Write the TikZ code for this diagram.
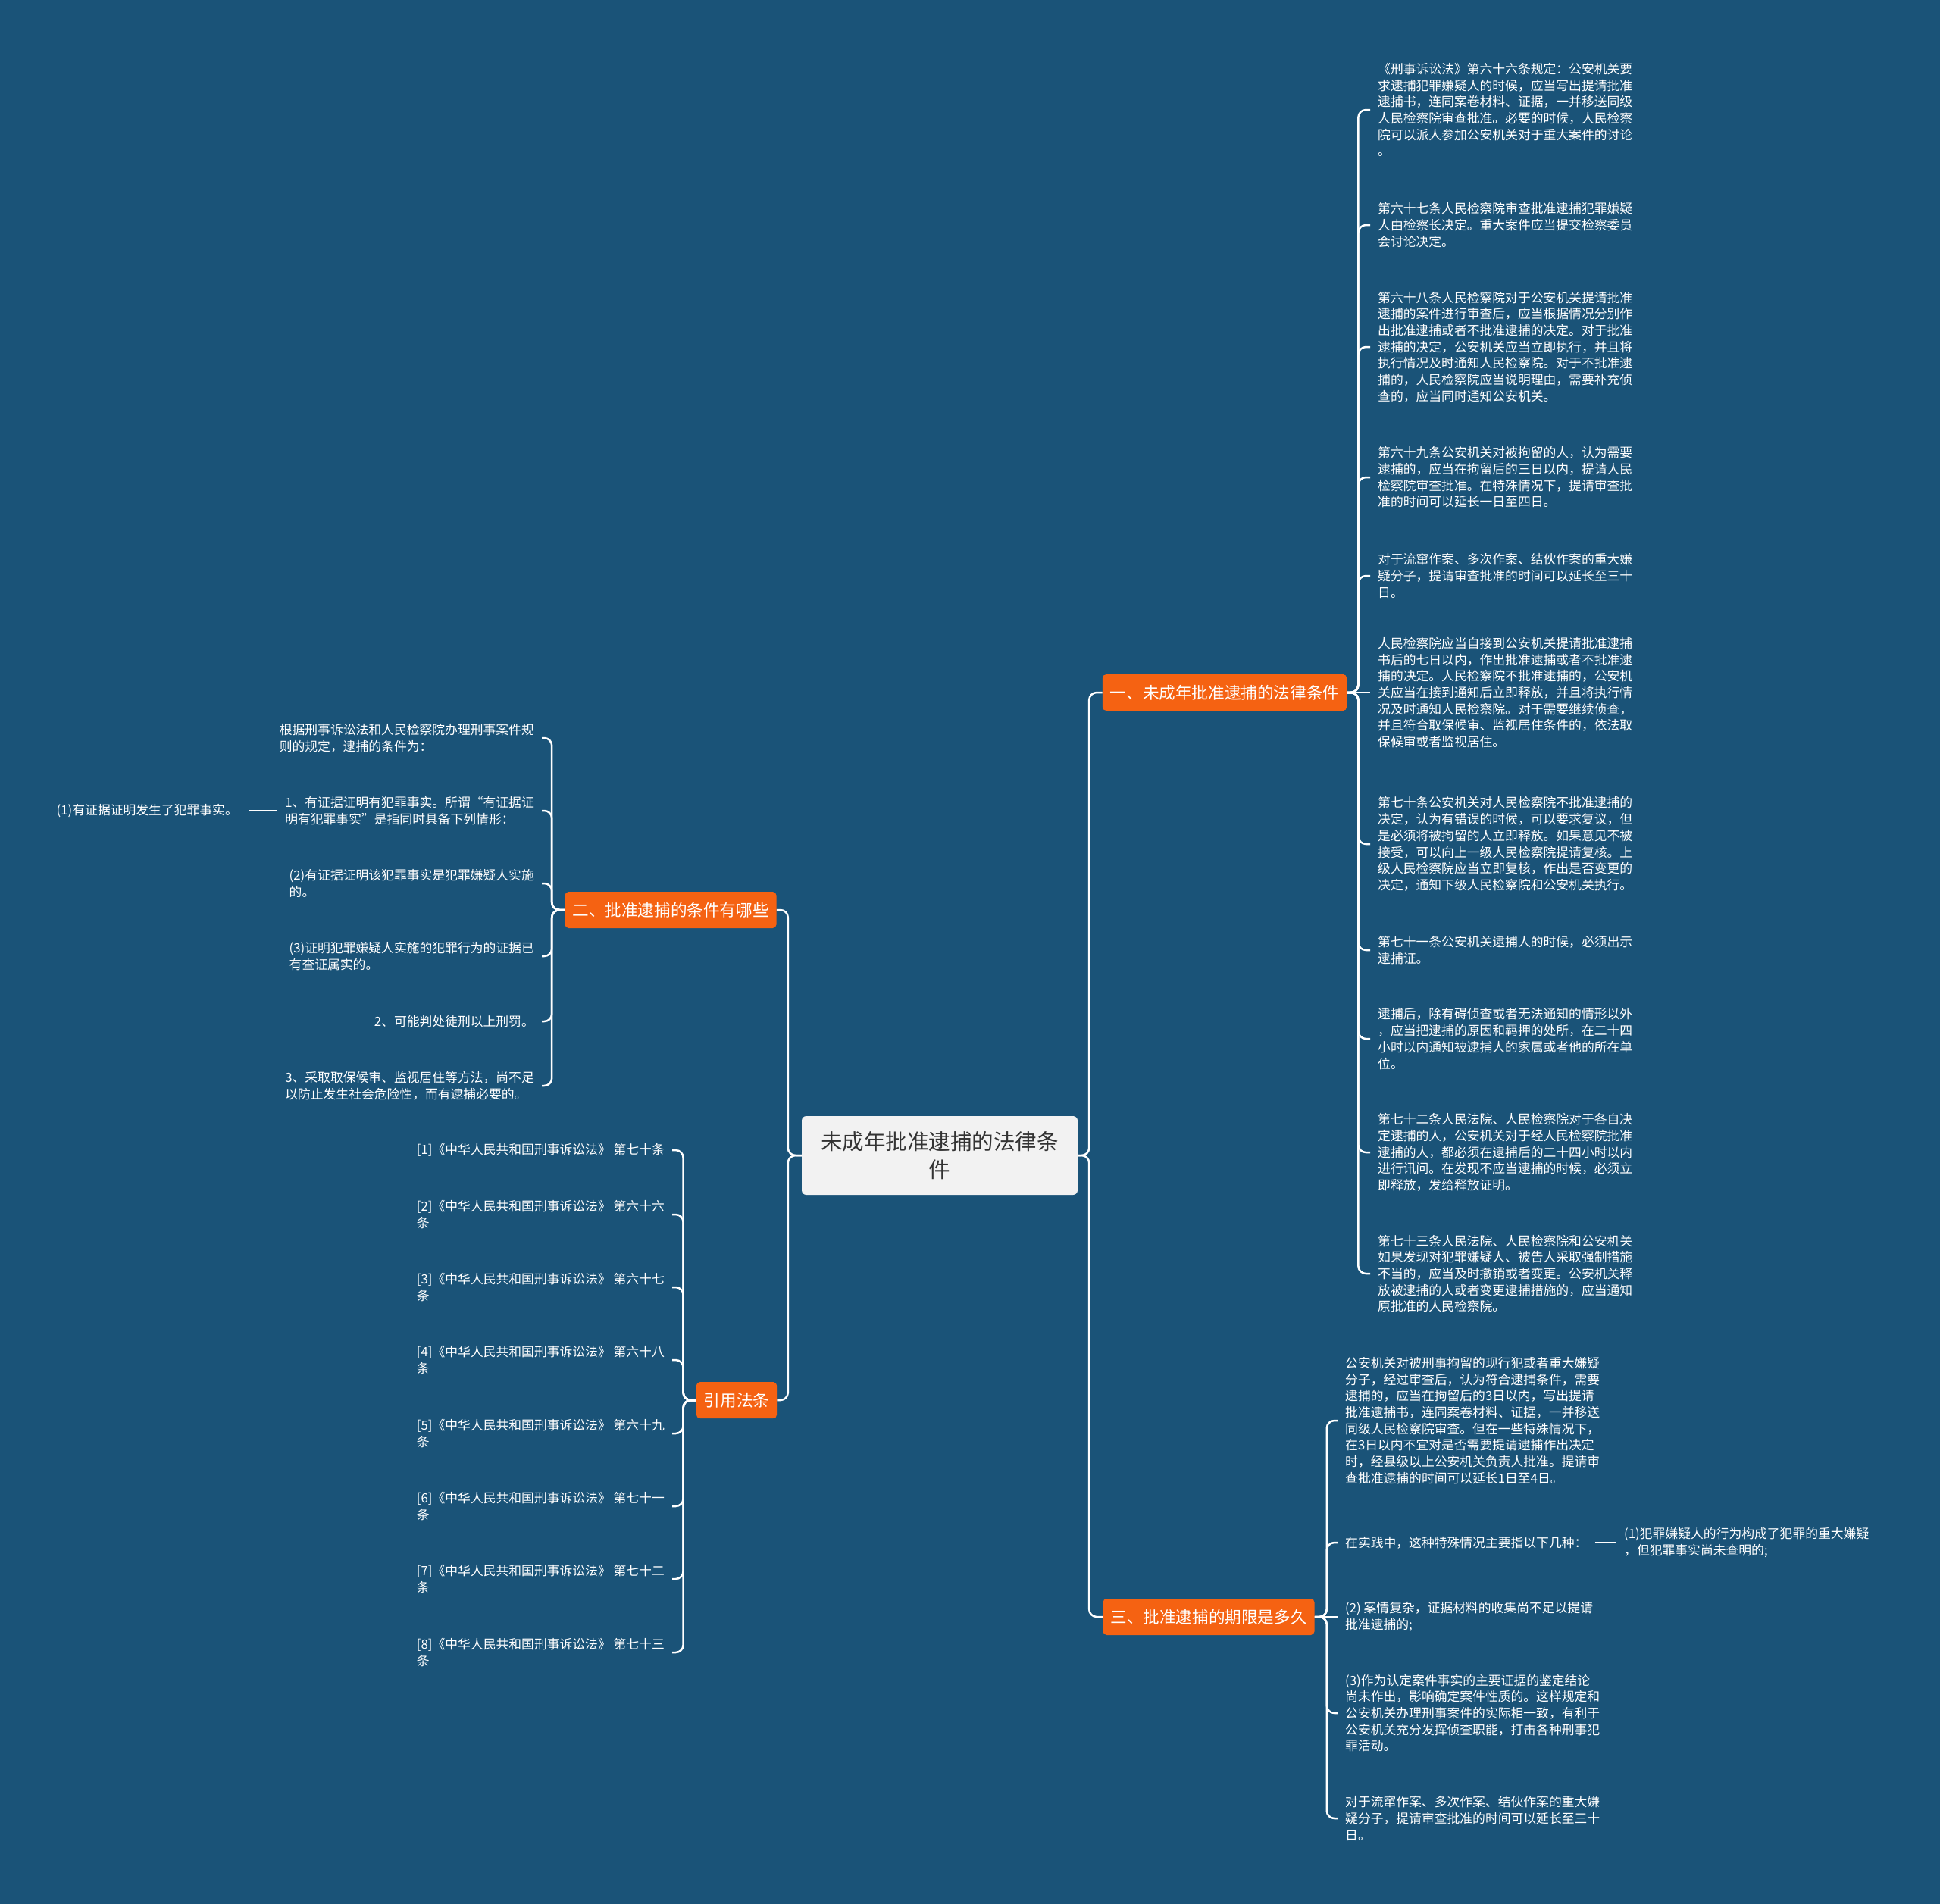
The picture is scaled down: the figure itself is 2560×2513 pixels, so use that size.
\documentclass[tikz,border=0pt]{standalone}
\usepackage{fontspec}
\setmainfont{Noto Sans CJK SC}
\usepackage{tikz}
\usepackage{xcolor}
\usetikzlibrary{positioning,calc}

\definecolor{bgblue}{RGB}{26,83,120}
\definecolor{topicorange}{RGB}{245,98,18}
\definecolor{rootgray}{RGB}{242,242,242}
\definecolor{roottext}{RGB}{51,51,51}

\newcommand{\leaffont}{\fontsize{16.8}{21.7}\selectfont}
\newcommand{\topicfont}{\fontsize{21.6}{26}\selectfont}
\newcommand{\rootfont}{\fontsize{28.5}{37}\selectfont}

\begin{document}
\begin{tikzpicture}[x=1pt, y=-1pt,
    root/.style={fill=rootgray, text=roottext, rounded corners=6pt, align=center,
        minimum width=364pt, minimum height=104pt, inner sep=0pt, font=\rootfont},
    topic/.style={fill=topicorange, text=white, rounded corners=5pt,
        inner xsep=10pt, minimum height=48pt, font=\topicfont},
    leaf/.style={text=white, align=left, inner xsep=10pt, inner ysep=2pt, font=\leaffont},
    link/.style={draw=white, line width=2.5pt, rounded corners=10pt}]
        \useasboundingbox (0,0) rectangle (2560,2513);
        \fill[bgblue] (0,0) rectangle (2560,2513);
        % centre and the four topics
        \node[root] (root) at (1240,1525) {未成年批准逮捕的法律条\\件};
        \node[topic] (b1) at (1616,914) {一、未成年批准逮捕的法律条件};
        \node[topic] (b2) at (885,1201) {二、批准逮捕的条件有哪些};
        \node[topic] (b3) at (1595,2134) {三、批准逮捕的期限是多久};
        \node[topic] (b4) at (972,1848) {引用法条};
        \draw[link] (root.east) -- ++(15,0) |- (b1.west);
        \draw[link] (root.east) -- ++(15,0) |- (b3.west);
        \draw[link] (root.west) -- ++(-18,0) |- (b2.east);
        \draw[link] (root.west) -- ++(-18,0) |- (b4.east);
        % topic one
        \node[leaf, anchor=west] (c1) at (1808,145) {《刑事诉讼法》第六十六条规定：公安机关要\\求逮捕犯罪嫌疑人的时候，应当写出提请批准\\逮捕书，连同案卷材料、证据，一并移送同级\\人民检察院审查批准。必要的时候，人民检察\\院可以派人参加公安机关对于重大案件的讨论\\。};
        \node[leaf, anchor=west] (c2) at (1808,297) {第六十七条人民检察院审查批准逮捕犯罪嫌疑\\人由检察长决定。重大案件应当提交检察委员\\会讨论决定。};
        \node[leaf, anchor=west] (c3) at (1808,458) {第六十八条人民检察院对于公安机关提请批准\\逮捕的案件进行审查后，应当根据情况分别作\\出批准逮捕或者不批准逮捕的决定。对于批准\\逮捕的决定，公安机关应当立即执行，并且将\\执行情况及时通知人民检察院。对于不批准逮\\捕的，人民检察院应当说明理由，需要补充侦\\查的，应当同时通知公安机关。};
        \node[leaf, anchor=west] (c4) at (1808,630) {第六十九条公安机关对被拘留的人，认为需要\\逮捕的，应当在拘留后的三日以内，提请人民\\检察院审查批准。在特殊情况下，提请审查批\\准的时间可以延长一日至四日。};
        \node[leaf, anchor=west] (c5) at (1808,760) {对于流窜作案、多次作案、结伙作案的重大嫌\\疑分子，提请审查批准的时间可以延长至三十\\日。};
        \node[leaf, anchor=west] (c6) at (1808,914) {人民检察院应当自接到公安机关提请批准逮捕\\书后的七日以内，作出批准逮捕或者不批准逮\\捕的决定。人民检察院不批准逮捕的，公安机\\关应当在接到通知后立即释放，并且将执行情\\况及时通知人民检察院。对于需要继续侦查，\\并且符合取保候审、监视居住条件的，依法取\\保候审或者监视居住。};
        \node[leaf, anchor=west] (c7) at (1808,1114) {第七十条公安机关对人民检察院不批准逮捕的\\决定，认为有错误的时候，可以要求复议，但\\是必须将被拘留的人立即释放。如果意见不被\\接受，可以向上一级人民检察院提请复核。上\\级人民检察院应当立即复核，作出是否变更的\\决定，通知下级人民检察院和公安机关执行。};
        \node[leaf, anchor=west] (c8) at (1808,1254) {第七十一条公安机关逮捕人的时候，必须出示\\逮捕证。};
        \node[leaf, anchor=west] (c9) at (1808,1371) {逮捕后，除有碍侦查或者无法通知的情形以外\\，应当把逮捕的原因和羁押的处所，在二十四\\小时以内通知被逮捕人的家属或者他的所在单\\位。};
        \node[leaf, anchor=west] (c10) at (1808,1521) {第七十二条人民法院、人民检察院对于各自决\\定逮捕的人，公安机关对于经人民检察院批准\\逮捕的人，都必须在逮捕后的二十四小时以内\\进行讯问。在发现不应当逮捕的时候，必须立\\即释放，发给释放证明。};
        \node[leaf, anchor=west] (c11) at (1808,1681) {第七十三条人民法院、人民检察院和公安机关\\如果发现对犯罪嫌疑人、被告人采取强制措施\\不当的，应当及时撤销或者变更。公安机关释\\放被逮捕的人或者变更逮捕措施的，应当通知\\原批准的人民检察院。};
        \foreach \c in {c1,c2,c3,c4,c5,c7,c8,c9,c10,c11}
            \draw[link] (b1.east) -- ++(15,0) |- (\c.west);
        \draw[link] (b1.east) -- (c6.west);
        % topic two
        \node[leaf, anchor=east] (d1) at (715,974) {根据刑事诉讼法和人民检察院办理刑事案件规\\则的规定，逮捕的条件为：};
        \node[leaf, anchor=east] (d2) at (715,1070) {1、有证据证明有犯罪事实。所谓“有证据证\\明有犯罪事实”是指同时具备下列情形：};
        \node[leaf, anchor=east] (d3) at (715,1166) {(2)有证据证明该犯罪事实是犯罪嫌疑人实施\\的。};
        \node[leaf, anchor=east] (d4) at (715,1262) {(3)证明犯罪嫌疑人实施的犯罪行为的证据已\\有查证属实的。};
        \node[leaf, anchor=east] (d5) at (715,1348) {2、可能判处徒刑以上刑罚。};
        \node[leaf, anchor=east] (d6) at (715,1433) {3、采取取保候审、监视居住等方法，尚不足\\以防止发生社会危险性，而有逮捕必要的。};
        \node[leaf, anchor=east] (d2a) at (324,1070) {(1)有证据证明发生了犯罪事实。};
        \foreach \c in {d1,d2,d3,d4,d5,d6}
            \draw[link] (b2.west) -- ++(-17,0) |- (\c.east);
        \draw[link, shorten <=5pt] (d2a.east) -- (d2.west);
        % topic three
        \node[leaf, anchor=west] (e1) at (1765,1875) {公安机关对被刑事拘留的现行犯或者重大嫌疑\\分子，经过审查后，认为符合逮捕条件，需要\\逮捕的，应当在拘留后的3日以内，写出提请\\批准逮捕书，连同案卷材料、证据，一并移送\\同级人民检察院审查。但在一些特殊情况下，\\在3日以内不宜对是否需要提请逮捕作出决定\\时，经县级以上公安机关负责人批准。提请审\\查批准逮捕的时间可以延长1日至4日。};
        \node[leaf, anchor=west] (e2) at (1765,2036) {在实践中，这种特殊情况主要指以下几种：};
        \node[leaf, anchor=west] (e3) at (1765,2134) {(2) 案情复杂，证据材料的收集尚不足以提请\\批准逮捕的;};
        \node[leaf, anchor=west] (e4) at (1765,2261) {(3)作为认定案件事实的主要证据的鉴定结论\\尚未作出，影响确定案件性质的。这样规定和\\公安机关办理刑事案件的实际相一致，有利于\\公安机关充分发挥侦查职能，打击各种刑事犯\\罪活动。};
        \node[leaf, anchor=west] (e5) at (1765,2400) {对于流窜作案、多次作案、结伙作案的重大嫌\\疑分子，提请审查批准的时间可以延长至三十\\日。};
        \node[leaf, anchor=west] (e2a) at (2133,2036) {(1)犯罪嫌疑人的行为构成了犯罪的重大嫌疑\\，但犯罪事实尚未查明的;};
        \foreach \c in {e1,e2,e4,e5}
            \draw[link] (b3.east) -- ++(16,0) |- (\c.west);
        \draw[link] (b3.east) -- (e3.west);
        \draw[link] (e2.east) -- (e2a.west);
        % cited articles
        \node[leaf, anchor=east] (f1) at (887,1518) {[1]《中华人民共和国刑事诉讼法》 第七十条};
        \foreach \i/\y/\art in {2/1603/六十六, 3/1699/六十七, 4/1795/六十八, 5/1892/六十九, 6/1988/七十一, 7/2084/七十二, 8/2181/七十三}
            \node[leaf, anchor=east] (f\i) at (887,\y) {[\i]《中华人民共和国刑事诉讼法》 第\art\\条};
        \foreach \i in {1,...,8}
            \draw[link] (b4.west) -- ++(-17,0) |- (f\i.east);
    \end{tikzpicture}
\end{document}
